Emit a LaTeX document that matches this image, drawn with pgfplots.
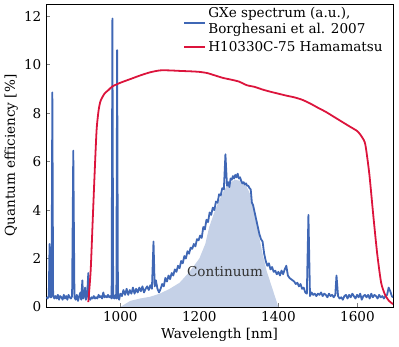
\documentclass[border=0pt]{standalone}
\usepackage{pgfplots}
\pgfplotsset{compat=1.18}
\usepackage{fontspec}
\setmainfont{DejaVu Serif}
\definecolor{specblue}{HTML}{3F67B5}
\definecolor{qered}{HTML}{DC143C}
\definecolor{contfill}{HTML}{C5D1E7}
\newcommand{\fs}{\fontsize{13.6}{16.5}\selectfont}
\begin{document}
\fs
\begin{tikzpicture}
\begin{axis}[
  scale only axis,
  width=347bp, height=303bp,
  xmin=812, xmax=1690, ymin=0, ymax=12.5,
  xtick={1000,1200,1400,1600},
  ytick={0,2,4,6,8,10,12},
  tick align=inside,
  xtick pos=bottom, ytick pos=left,
  major tick length=4bp,
  /pgf/number format/assume math mode=true,
  /pgf/number format/1000 sep={},
  tick label style={font=\fs},
  label style={font=\fs},
  xlabel={Wavelength [nm]},
  ylabel={Quantum efficiency [\%]},
  xlabel style={yshift=3bp},
  ylabel style={yshift=-3bp},
  axis line style={line width=0.8pt},
  legend style={draw=none, fill=none, at={(0.985,1.003)}, anchor=north east,
    font=\fs, row sep=1pt, cells={align=left}},
  legend cell align=left,
  legend image code/.code={\draw[#1, line width=1.8pt] (0,0) -- (21bp,0);},
]
\addplot[fill=contfill, draw=none, forget plot] table {
1000 0
1025 0.25
1050 0.35
1075 0.42
1100 0.55
1125 0.75
1150 1.0
1175 1.45
1200 2.0
1215 2.6
1225 3.3
1240 4.0
1250 4.4
1262 4.8
1275 5.1
1290 5.25
1305 5.2
1320 4.95
1330 4.6
1340 3.9
1350 3.0
1360 2.2
1370 1.5
1380 1.0
1390 0.5
1400 0.0
};
\addplot[specblue, line width=1.8pt, line join=round,
  legend image code/.code={\draw[specblue, line width=2pt] (0,-1.5bp) -- (21bp,-1.5bp);}] table {
813 0.40
816 0.35
819 0.45
821 2.6
823 0.4
826 0.4
828 8.85
830 0.5
833 0.35
836 0.45
839 0.35
842 0.5
845 0.3
848 0.45
851 0.4
854 0.3
857 0.5
860 0.35
863 0.45
866 0.3
869 0.5
872 0.4
875 0.35
878 0.45
881 6.45
884 0.4
887 0.3
890 0.5
893 0.25
896 0.45
899 0.6
901 0.3
904 1.1
906 0.35
909 0.5
911 0.8
913 0.3
916 0.45
919 1.4
921 0.35
924 0.3
927 0.4
930 0.35
933 0.45
936 0.35
939 0.4
942 0.35
945 0.5
948 0.4
951 0.45
954 0.35
957 0.6
960 0.4
963 0.45
966 0.4
969 0.5
972 0.4
975 0.45
978 0.35
980 11.9
982 0.4
985 0.35
988 0.5
990 0.35
992 10.6
994 0.4
997 0.3
1000 0.55
1004 0.45
1008 0.7
1012 0.5
1016 0.75
1020 0.5
1024 0.7
1028 0.55
1032 0.8
1036 0.55
1040 0.75
1044 0.6
1048 0.8
1052 0.65
1056 0.85
1060 0.6
1064 0.75
1068 0.85
1072 0.7
1076 0.9
1080 0.75
1084 2.7
1087 0.85
1090 1.1
1094 0.75
1098 0.6
1102 0.75
1106 0.95
1110 0.85
1114 1.2
1118 1.05
1122 1.3
1126 1.15
1130 1.4
1134 1.3
1138 1.55
1142 1.45
1146 1.7
1150 1.6
1154 1.9
1158 1.8
1162 2.1
1166 2.0
1170 2.3
1174 2.2
1178 2.45
1182 2.4
1186 2.6
1190 2.5
1194 2.8
1198 2.75
1202 2.95
1206 2.85
1210 3.3
1214 3.2
1218 3.6
1222 3.5
1226 3.9
1230 3.8
1234 4.1
1238 4.0
1242 4.35
1246 4.3
1250 4.65
1254 4.6
1258 4.9
1262 4.85
1266 6.3
1270 5.0
1273 5.15
1276 4.95
1279 5.3
1282 5.25
1285 5.4
1288 5.3
1291 5.45
1294 5.35
1297 5.5
1300 5.3
1303 5.35
1306 5.2
1309 5.1
1312 5.15
1315 5.05
1318 5.1
1321 5.0
1324 5.0
1327 4.9
1330 4.85
1333 4.3
1336 4.2
1340 3.9
1344 3.6
1348 3.3
1352 3.0
1356 2.8
1360 2.7
1364 2.2
1368 1.9
1372 1.7
1376 1.8
1380 1.55
1384 1.65
1388 1.45
1392 1.5
1396 1.35
1400 1.45
1404 1.3
1408 1.5
1412 1.35
1416 1.55
1420 1.7
1424 1.3
1428 1.2
1432 1.15
1436 1.1
1440 1.05
1444 0.95
1448 1.0
1452 0.85
1456 0.95
1460 0.75
1464 0.8
1468 0.6
1472 0.55
1476 3.8
1480 0.45
1484 0.6
1488 0.5
1492 0.55
1496 0.45
1500 0.55
1504 0.5
1508 0.6
1512 0.45
1516 0.55
1520 0.5
1524 0.4
1528 0.55
1532 0.45
1536 0.5
1540 0.4
1544 0.5
1547 1.3
1551 0.45
1555 0.35
1559 0.4
1563 0.3
1567 0.45
1571 0.5
1575 0.35
1579 0.5
1583 0.4
1587 0.55
1591 0.45
1595 0.35
1599 0.5
1603 0.4
1607 0.55
1611 0.3
1615 0.45
1619 0.5
1623 0.4
1627 0.5
1631 0.35
1635 0.55
1639 0.4
1643 0.5
1647 0.45
1651 0.35
1655 0.5
1659 0.4
1663 0.45
1667 0.35
1671 0.45
1675 0.5
1679 0.8
1683 0.65
1687 0.45
1690 0.4
};
\addlegendentry{GXe spectrum (a.u.),\\Borghesani et al. 2007}
\addplot[qered, line width=1.8pt, smooth, tension=0.4] table {
919 0.2
925 1.5
930 3.5
935 5.5
940 7.3
945 8.1
950 8.5
960 8.8
970 8.95
980 9.1
1000 9.25
1025 9.4
1050 9.55
1075 9.68
1100 9.76
1125 9.76
1150 9.74
1180 9.72
1200 9.70
1220 9.65
1240 9.55
1260 9.45
1280 9.38
1300 9.3
1320 9.15
1340 9.08
1360 8.97
1380 8.88
1400 8.8
1420 8.72
1440 8.65
1460 8.55
1480 8.4
1500 8.22
1520 8.05
1540 7.85
1560 7.65
1580 7.45
1600 7.25
1612 7.0
1620 6.7
1630 5.5
1640 3.8
1650 2.2
1660 1.0
1670 0.5
1680 0.25
1690 0.12
};
\addlegendentry{H10330C-75 Hamamatsu}
\node[font=\fs, text=black!80] at (axis cs:1265,1.45) {Continuum};
\end{axis}
\path (current axis.north east) ++(6bp,4bp);
\end{tikzpicture}
\end{document}
